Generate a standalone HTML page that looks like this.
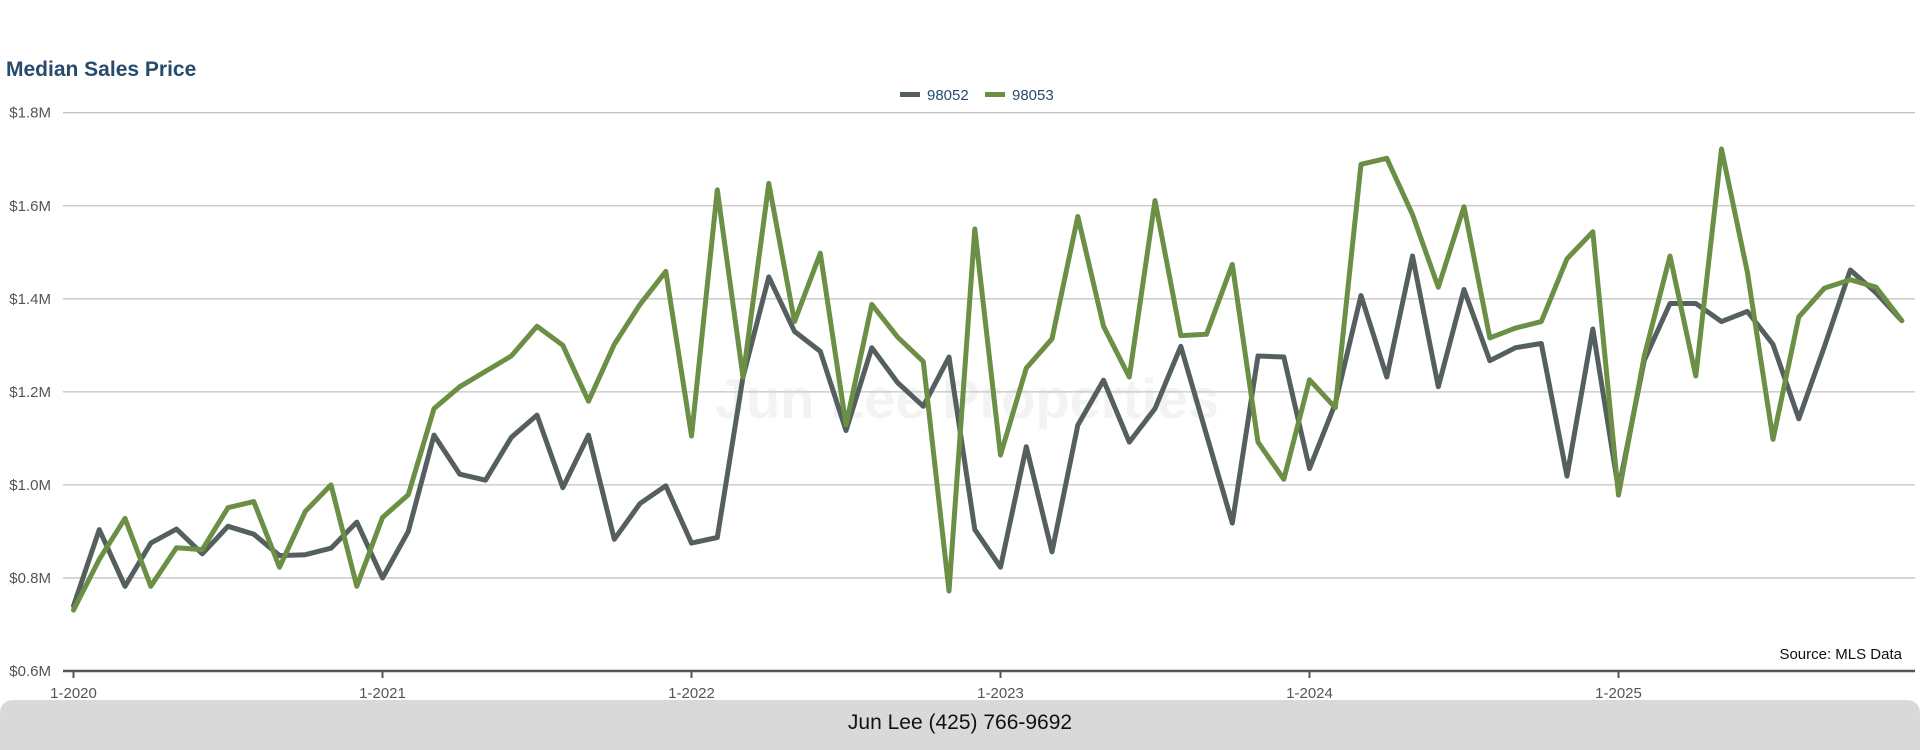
<!DOCTYPE html>
<html><head><meta charset="utf-8"><style>
html,body{margin:0;padding:0;background:#fff;}
body{width:1920px;height:750px;position:relative;overflow:hidden;font-family:"Liberation Sans",sans-serif;}
svg{position:absolute;left:0;top:0;}
</style></head><body>
<svg id="chart" width="1920" height="750" viewBox="0 0 1920 750">
  <text x="6" y="76" font-family="Liberation Sans, sans-serif" font-size="21" font-weight="bold" fill="#274a6d">Median Sales Price</text>
  <g>
    <g>
      <rect x="900" y="92" width="20" height="5" fill="#555f5f"/>
      <text x="927" y="100" font-size="15" fill="#274a6d" font-family="Liberation Sans, sans-serif">98052</text>
    </g>
    <g>
      <rect x="985" y="92" width="20" height="5" fill="#6a8f45"/>
      <text x="1012" y="100" font-size="15" fill="#274a6d" font-family="Liberation Sans, sans-serif">98053</text>
    </g>
  </g>
  <text x="967" y="418" text-anchor="middle" font-size="56" font-weight="bold" fill="#f3f3f3" font-family="Liberation Sans, sans-serif">Jun Lee Properties</text>
  <g id="grid"></g>
  <g id="lines"></g>
  <g id="xaxis"></g>
  <text x="1902" y="659" text-anchor="end" font-size="15" fill="#111" font-family="Liberation Sans, sans-serif">Source: MLS Data</text>
  <g>
    <path d="M0,750 L0,714 Q0,700 14,700 L1906,700 Q1920,700 1920,714 L1920,750 Z" fill="#d9d9d9"/>
    <text x="960" y="729" text-anchor="middle" font-size="21" fill="#111" font-family="Liberation Sans, sans-serif">Jun Lee (425) 766-9692</text>
  </g>
</svg>
<script>
const yTicks = [0.6, 0.8, 1.0, 1.2, 1.4, 1.6, 1.8];
const yTickLabels = ["$0.6M","$0.8M","$1.0M","$1.2M","$1.4M","$1.6M","$1.8M"];
const xTickLabels = ["1-2020","1-2021","1-2022","1-2023","1-2024","1-2025"];
const seriesNames = ["98052","98053"];
const zip98052 = [0.74,0.904,0.782,0.875,0.905,0.852,0.911,0.894,0.848,0.85,0.864,0.92,
 0.80,0.90,1.107,1.023,1.01,1.102,1.15,0.994,1.107,0.883,0.96,0.998,
 0.875,0.887,1.232,1.447,1.33,1.287,1.117,1.295,1.22,1.169,1.275,0.904,
 0.823,1.082,0.856,1.128,1.225,1.092,1.164,1.298,1.108,0.918,1.277,1.275,
 1.035,1.175,1.407,1.232,1.492,1.211,1.42,1.267,1.295,1.304,1.019,1.335,
 0.99,1.268,1.39,1.39,1.351,1.373,1.302,1.142,1.298,1.462,1.413,1.353];
const zip98053 = [0.731,0.84,0.928,0.782,0.865,0.861,0.951,0.964,0.823,0.943,1.0,0.782,
 0.93,0.979,1.164,1.211,1.244,1.277,1.341,1.30,1.18,1.302,1.388,1.459,
 1.105,1.634,1.232,1.648,1.351,1.498,1.129,1.388,1.318,1.265,0.772,1.55,
 1.064,1.251,1.314,1.577,1.341,1.232,1.611,1.321,1.324,1.474,1.092,1.012,
 1.226,1.166,1.689,1.702,1.581,1.425,1.598,1.316,1.337,1.351,1.486,1.544,
 0.978,1.277,1.492,1.234,1.722,1.458,1.098,1.361,1.423,1.441,1.425,1.353];

const NS = "http://www.w3.org/2000/svg";
const x0 = 73.5, monthW = 25.75, plotL = 63, plotR = 1915;
const yTop = 112.7, yBot = 671, vMin = 0.6, vMax = 1.8;
function xScale(i){ return x0 + i*monthW; }
function yScale(v){ return yBot - (v - vMin)/(vMax - vMin)*(yBot - yTop); }
function mk(tag, attrs){ const e = document.createElementNS(NS, tag); for (const k in attrs) e.setAttribute(k, attrs[k]); return e; }

const grid = document.getElementById('grid');
yTicks.forEach((v, i) => {
  const y = yScale(v);
  if (i > 0) {
    const l = mk('line', {x1: plotL, x2: plotR, y1: y, y2: y, stroke: '#c4c4c4', 'stroke-width': 1.3});
    
    
    grid.appendChild(l);
  }
  const t = mk('text', {x: 51, y: y + 5, 'text-anchor': 'end', 'font-size': 15, fill: '#555', 'font-family': 'Liberation Sans, sans-serif'});
  t.textContent = yTickLabels[i];
  
  
  grid.appendChild(t);
});

const xa = document.getElementById('xaxis');
const axis = mk('line', {x1: plotL, x2: plotR, y1: yBot, y2: yBot, stroke: '#555', 'stroke-width': 2.5});


xa.appendChild(axis);
xTickLabels.forEach((lab, i) => {
  const x = xScale(i*12);
  const tk = mk('line', {x1: x, x2: x, y1: yBot, y2: yBot + 7, stroke: '#555', 'stroke-width': 2});
  
  
  xa.appendChild(tk);
  const t = mk('text', {x: x, y: 698, 'text-anchor': 'middle', 'font-size': 15, fill: '#555', 'font-family': 'Liberation Sans, sans-serif'});
  t.textContent = lab;
  
  
  xa.appendChild(t);
});

const lines = document.getElementById('lines');
[[zip98052, '#555f5f'], [zip98053, '#6a8f45']].forEach((s, k) => {
  const pts = s[0].map((v, i) => xScale(i).toFixed(1) + ',' + yScale(v).toFixed(1)).join(' ');
  const p = mk('polyline', {points: pts, fill: 'none', stroke: s[1], 'stroke-width': 5, 'stroke-linejoin': 'round', 'stroke-linecap': 'round'});
  
  
  lines.appendChild(p);
});
</script>
</body></html>
